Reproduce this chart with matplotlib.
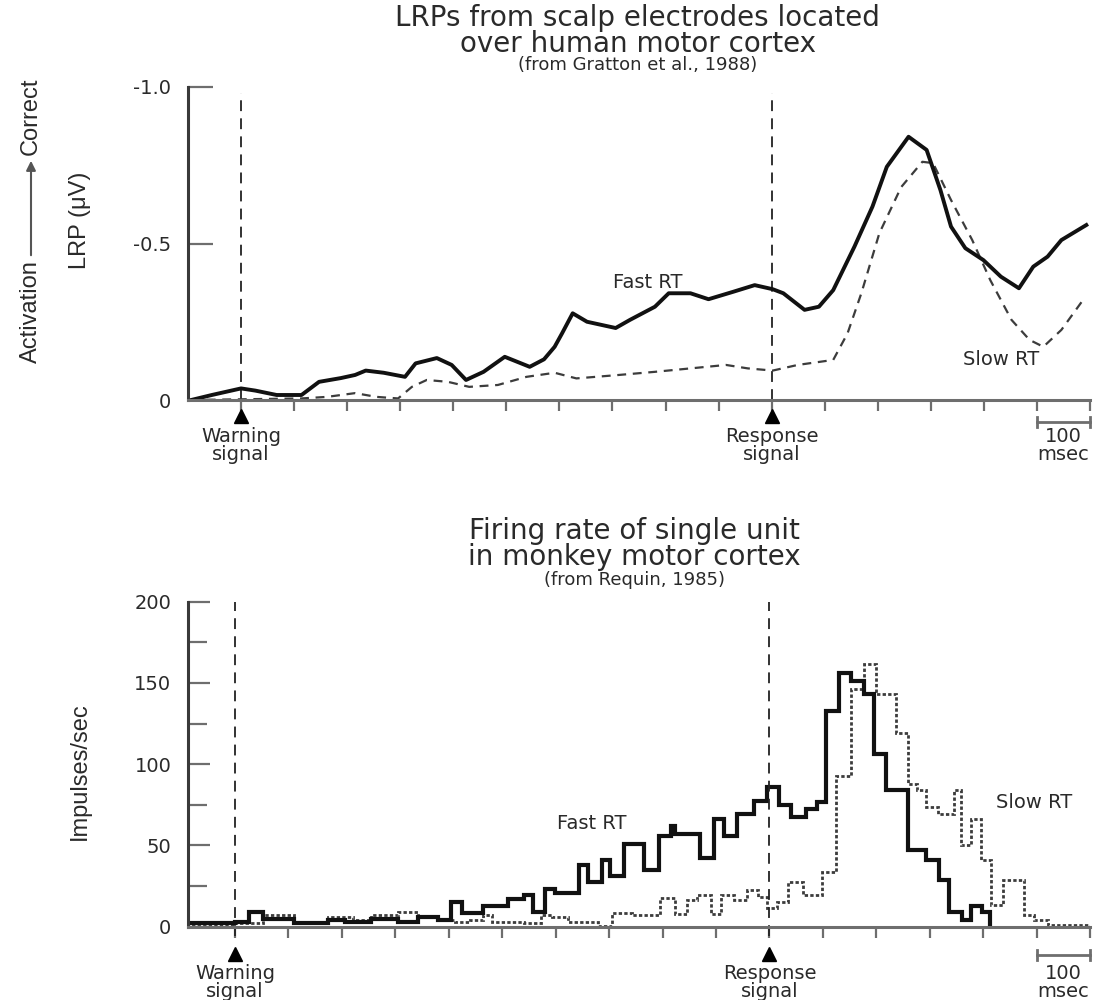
import matplotlib
matplotlib.use("Agg")
import matplotlib.pyplot as plt
from matplotlib.patches import FancyArrowPatch

# --- LRP traces (Gratton et al., 1988); time in ms from warning signal, LRP in microvolts
lrp_fast_t = [-94, -55, 0, 27, 67, 114, 147, 188, 215, 235, 269, 309, 329, 369, 397, 424,
              457, 497, 544, 571, 591, 605, 625, 652, 706, 733, 780, 806, 847, 881, 928,
              968, 1002, 1022, 1062, 1089, 1116, 1156, 1190, 1217, 1258, 1292, 1318, 1338,
              1365, 1399, 1432, 1466, 1493, 1520, 1546, 1593]
lrp_fast_v = [0, -0.016, -0.037, -0.03, -0.016, -0.016, -0.058, -0.07, -0.08, -0.094, -0.087,
              -0.074, -0.117, -0.134, -0.112, -0.064, -0.09, -0.138, -0.106, -0.13, -0.17,
              -0.213, -0.277, -0.25, -0.23, -0.256, -0.298, -0.341, -0.341, -0.322, -0.346,
              -0.367, -0.354, -0.341, -0.288, -0.298, -0.351, -0.49, -0.618, -0.745, -0.841,
              -0.799, -0.671, -0.554, -0.485, -0.447, -0.394, -0.357, -0.426, -0.458, -0.511,
              -0.559]
lrp_slow_t = [-94, 114, 162, 215, 255, 296, 322, 350, 390, 430, 484, 538, 591, 632, 712, 780,
              847, 914, 955, 1002, 1049, 1116, 1143, 1169, 1203, 1244, 1284, 1304, 1338, 1378,
              1412, 1452, 1486, 1512, 1546, 1587]
lrp_slow_v = [0, -0.005, -0.01, -0.022, -0.01, -0.005, -0.042, -0.064, -0.058, -0.042, -0.048,
              -0.074, -0.087, -0.069, -0.08, -0.09, -0.101, -0.112, -0.101, -0.094, -0.112,
              -0.128, -0.213, -0.341, -0.533, -0.68, -0.761, -0.757, -0.639, -0.511, -0.383,
              -0.256, -0.192, -0.17, -0.224, -0.32]

# --- single unit histograms (Requin, 1985); bin edges in ms, rate in impulses/sec
fr_fast_edges = [-88, 0, 27, 52, 111, 174, 205, 255, 305, 342, 380, 405, 425, 464, 511, 540,
                 558, 580, 599, 643, 661, 687, 702, 727, 765, 793, 815, 824, 871, 896, 915,
                 940, 971, 996, 1018, 1040, 1068, 1090, 1105, 1130, 1152, 1177, 1196, 1218,
                 1259, 1293, 1317, 1337, 1360, 1377, 1397, 1413]
fr_fast_vals = [2, 3, 9, 5, 2, 4, 3, 5, 3, 6, 4, 15, 8.5, 13, 17, 19.5, 9, 23.5, 20.5, 38,
                27.5, 41, 31.5, 51, 35, 56, 62, 57, 42, 66.5, 56, 69.5, 77.5, 86, 75, 67.5,
                72.5, 76.5, 133, 156, 151, 143, 106, 84, 47, 41, 28.5, 9, 4, 13, 9]
fr_slow_edges = [-88, 0, 52, 111, 174, 220, 255, 305, 342, 380, 411, 440, 464, 480, 540, 572,
                 594, 624, 680, 705, 742, 796, 824, 846, 865, 890, 909, 934, 959, 978, 996,
                 1015, 1034, 1062, 1099, 1124, 1152, 1177, 1199, 1236, 1259, 1277, 1293, 1315,
                 1346, 1359, 1377, 1396, 1415, 1437, 1477, 1496, 1521, 1600]
fr_slow_vals = [1, 2, 7, 3, 6, 4, 7, 9, 6, 4, 3, 4, 7, 3, 2, 7, 6, 3, 0.5, 8.5, 7.5, 17.4, 8,
                16.4, 19.4, 8, 19.4, 16.4, 22.5, 18.4, 11.5, 15.3, 27.6, 19.4, 33.7, 93, 146,
                161.6, 143, 119, 88, 84, 73.6, 69.6, 84, 50, 66.5, 41, 13.3, 29, 7, 4, 1]

signal_times = [0, 1000]
signal_names = ["Warning\nsignal", "Response\nsignal"]
xticks_ms = list(range(0, 1700, 100))

TXT = "#2a2a2a"
AX = "#6e6e6e"
NARROW = "Liberation Sans"

fig = plt.figure(figsize=(11.09, 10), dpi=100)


def style_axes(ax, xmin, tri_y, lab_y, bar_y):
    ax.set_xlim(xmin, 1600)
    for s in ("top", "right"):
        ax.spines[s].set_visible(False)
    ax.spines["left"].set_color("#3a3a3a")
    ax.spines["left"].set_linewidth(2.2)
    ax.spines["bottom"].set_color(AX)
    ax.spines["bottom"].set_linewidth(2.2)
    ax.set_xticks(xticks_ms)
    ax.tick_params(axis="x", direction="out", length=8, width=1.6, colors=AX,
                   labelbottom=False)
    ax.tick_params(axis="y", which="both", direction="in", width=1.6, colors=AX,
                   labelcolor=TXT, labelsize=14, pad=12)
    tr = ax.get_xaxis_transform()
    # event markers under the time axis
    ax.plot(signal_times, [tri_y] * 2, "^", color="black", ms=10, transform=tr,
            clip_on=False)
    for t, name in zip(signal_times, signal_names):
        ax.text(t, lab_y, name, transform=tr, ha="center", va="top", fontsize=14,
                color=TXT, linespacing=0.95)
    # 100 msec scale bar
    ax.plot([1500, 1600], [bar_y, bar_y], color=AX, lw=2, transform=tr, clip_on=False)
    for t in (1500, 1600):
        ax.plot([t, t], [bar_y - 0.015, bar_y + 0.015], color=AX, lw=2, transform=tr,
                clip_on=False)
    ax.text(1550, lab_y, "100\nmsec", transform=tr, ha="center", va="top", fontsize=14,
            color=TXT, linespacing=0.95)


# ---------------- top: LRPs ----------------
ax1 = fig.add_axes([0.1695, 0.6, 0.8134, 0.313])
ax1.set_ylim(0, -1.0)
ax1.set_yticks([-1.0, -0.5, 0])
ax1.set_yticklabels(["-1.0", "-0.5", "0"])
ax1.tick_params(axis="y", length=18)
style_axes(ax1, -100, -0.05, -0.085, -0.07)
for t in signal_times:
    ax1.axvline(t, ymin=0, ymax=0.98, color="#222222", lw=1.3, ls=(0, (6, 4)))
ax1.plot(lrp_slow_t, lrp_slow_v, color="#3c3c3c", lw=1.6, ls=(0, (4, 3)))
ax1.plot(lrp_fast_t, lrp_fast_v, color="#111111", lw=2.8)
ax1.text(766, -0.374, "Fast RT", ha="center", va="center", fontsize=14, color=TXT)
ax1.text(1433, -0.128, "Slow RT", ha="center", va="center", fontsize=14, color=TXT)

fig.text(0.575, 0.969, "LRPs from scalp electrodes located\nover human motor cortex",
         ha="center", va="center", multialignment="center", fontsize=20,
         linespacing=0.92, color=TXT)
fig.text(0.575, 0.935, "(from Gratton et al., 1988)", ha="center", va="center",
         fontsize=13, color=TXT)

fig.text(31 / 1109, 1 - 312 / 1000, "Activation", rotation=90, ha="center", va="center",
         fontsize=17, color=TXT, family=NARROW)
fig.text(31 / 1109, 1 - 116 / 1000, "Correct", rotation=90, ha="center", va="center",
         fontsize=17, color=TXT, family=NARROW)
fig.add_artist(FancyArrowPatch((31 / 1109, 1 - 258 / 1000), (31 / 1109, 1 - 158 / 1000),
                               transform=fig.transFigure, arrowstyle="-|>",
                               mutation_scale=14, color="#555555", lw=1.5))
fig.text(80 / 1109, 1 - 220 / 1000, "LRP (\u03bcV)", rotation=90, ha="center",
         va="center", fontsize=17, color=TXT, family=NARROW)

# ---------------- bottom: firing rate ----------------
ax2 = fig.add_axes([0.1695, 0.0733, 0.8134, 0.325])
ax2.set_ylim(0, 200)
ax2.set_yticks([0, 50, 100, 150, 200])
ax2.set_yticks([25, 75, 125, 175], minor=True)
ax2.tick_params(axis="y", which="major", length=16)
ax2.tick_params(axis="y", which="minor", length=14, color="#9a9a9a")
style_axes(ax2, -88, -0.083, -0.115, -0.087)
for t in signal_times:
    ax2.axvline(t, ymin=-0.03, ymax=1.0, color="#222222", lw=1.3, ls=(0, (6, 4)),
                clip_on=False)
ax2.stairs(fr_slow_vals, fr_slow_edges, baseline=0, color="#3c3c3c", lw=2,
           ls=(0, (1.2, 0.8)))
ax2.stairs(fr_fast_vals, fr_fast_edges, baseline=0, color="#111111", lw=3)
ax2.text(668, 63.6, "Fast RT", ha="center", va="center", fontsize=14, color=TXT)
ax2.text(1496, 76.5, "Slow RT", ha="center", va="center", fontsize=14, color=TXT)

fig.text(0.572, 1 - 544 / 1000, "Firing rate of single unit\nin monkey motor cortex",
         ha="center", va="center", multialignment="center", fontsize=20,
         linespacing=0.92, color=TXT)
fig.text(0.572, 1 - 580 / 1000, "(from Requin, 1985)", ha="center", va="center",
         fontsize=13, color=TXT)
fig.text(80 / 1109, 1 - 771 / 1000, "Impulses/sec", rotation=90, ha="center",
         va="center", fontsize=17, color=TXT, family=NARROW)

fig.savefig("out.png", dpi=100)
